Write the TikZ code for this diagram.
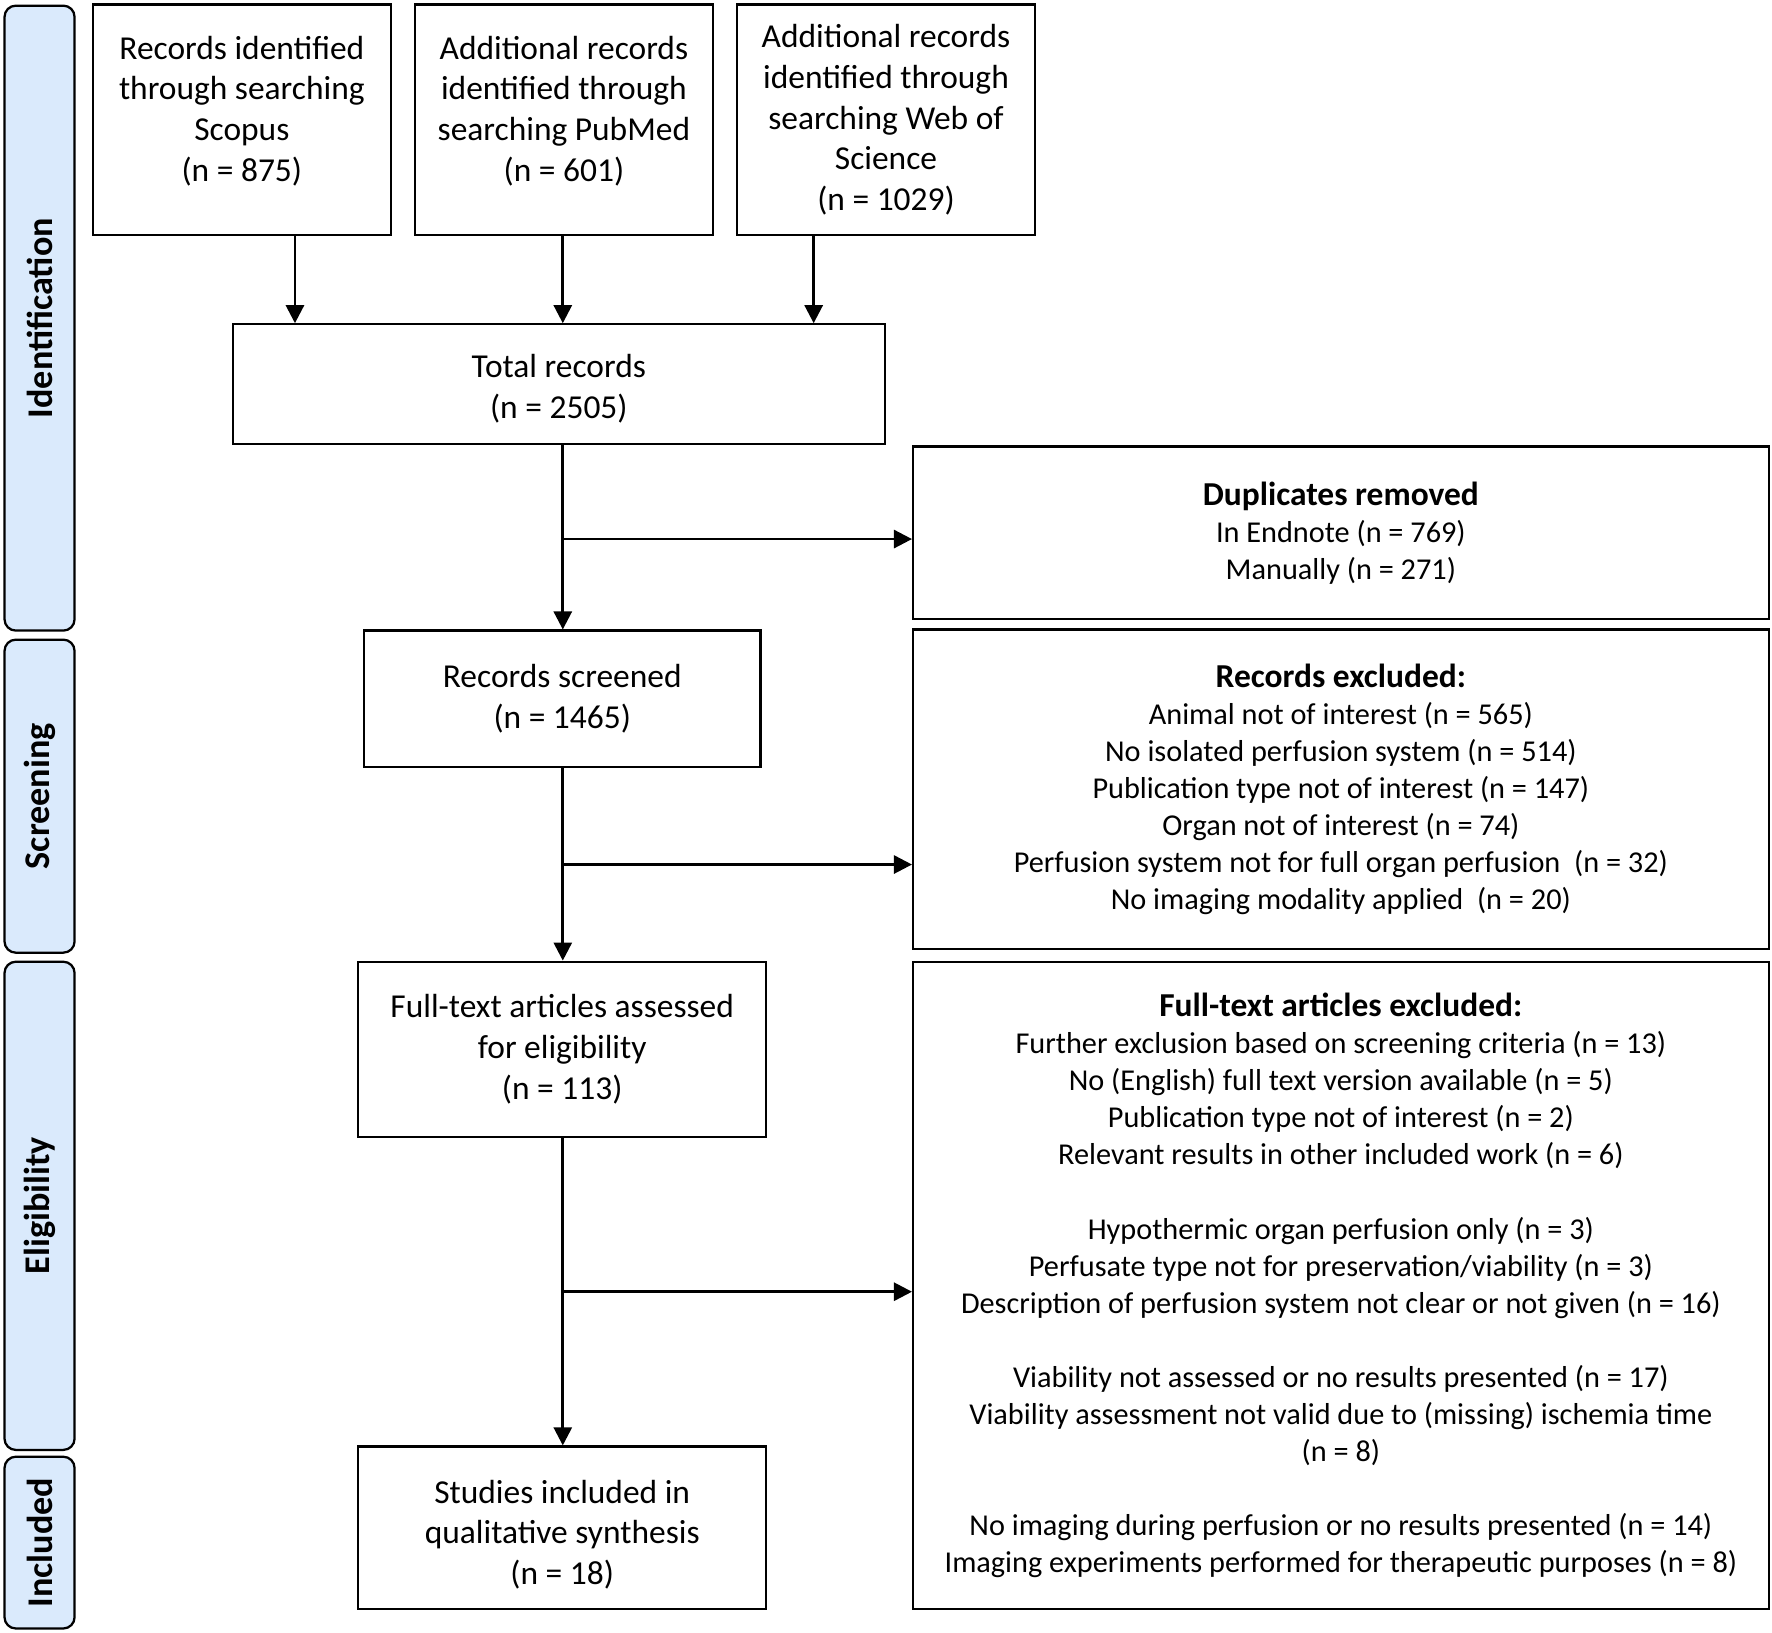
\documentclass[tikz,border=0pt]{standalone}
\usepackage{fontspec}
\setmainfont{Carlito}
\usetikzlibrary{arrows.meta}
\definecolor{barblue}{RGB}{218,234,252}
\tikzset{
  box/.style={draw=black, line width=1pt, fill=white, align=center, inner sep=0pt,
    font=\fontsize{14.8pt}{18pt}\selectfont},
  rbox/.style={draw=black, line width=1pt, fill=white, align=center, inner sep=0pt,
    font=\fontsize{13.4pt}{16.4pt}\selectfont, minimum width=378.5pt},
  head/.style={font=\fontsize{14.8pt}{16.4pt}\selectfont\bfseries},
  bar/.style={draw=black, line width=1pt, fill=barblue, rounded corners=5pt,
    minimum width=31pt, inner sep=0pt},
  barlabel/.style={rotate=90, font=\fontsize{16pt}{18pt}\selectfont\bfseries},
  arr/.style={line width=1.2pt, -{Triangle[width=8pt,length=8pt]}}
}
\newcommand{\hd}[1]{{\fontsize{14.8pt}{16.4pt}\selectfont\bfseries #1}}
\begin{document}
\begin{tikzpicture}[x=0.5pt,y=-0.5pt]
\useasboundingbox (0,0) rectangle (1568,1445);
% side bars
\node[bar, minimum height=276.5pt] (ident) at (35,281.5) {};
\node[barlabel] (identl) at (ident.center) {Identification};
\node[bar, minimum height=138.5pt] (screen) at (35,704.5) {};
\node[barlabel] (screenl) at (screen.center) {Screening};
\node[bar, minimum height=216pt] (elig) at (35,1067) {};
\node[barlabel] (eligl) at (elig.center) {Eligibility};
\node[bar, minimum height=76pt] (incl) at (35,1365) {};
\node[barlabel] (incll) at (incl.center) {Included};
% top boxes
\node[box, minimum width=132pt, minimum height=102pt] (scopus) at (214,106) {};
\node[box, draw=none, fill=none] (scopust) at (214,98) {Records identified\\through searching\\Scopus\\(n = 875)};
\node[box, minimum width=132pt, minimum height=102pt] (pubmed) at (499,106) {};
\node[box, draw=none, fill=none] (pubmedt) at (499,98) {Additional records\\identified through\\searching PubMed\\(n = 601)};
\node[box, minimum width=132pt, minimum height=102pt] (wos) at (784,106) {};
\node[box, draw=none, fill=none] (wost) at (784,106) {Additional records\\identified through\\searching Web of\\Science\\(n = 1029)};
% main column
\node[box, minimum width=288.5pt, minimum height=53pt] (total) at (494.5,340) {};
\node[box, draw=none, fill=none] (totalt) at (494.5,344) {Total records\\(n = 2505)};
\node[box, minimum width=175.5pt, minimum height=60.5pt] (screened) at (497.5,618.5) {Records screened\\(n = 1465)};
\node[box, minimum width=180.5pt, minimum height=77.5pt] (fulltext) at (497.5,928.5) {Full-text articles assessed\\for eligibility\\(n = 113)};
\node[box, minimum width=180.5pt, minimum height=72pt] (studies) at (497.5,1352) {};
\node[box, draw=none, fill=none] (studiest) at (497.5,1358) {Studies included in\\qualitative synthesis\\(n = 18)};
% right boxes
\node[rbox, minimum height=76.5pt] (dup) at (1186.5,471.5) {\hd{Duplicates removed}\\In Endnote (n = 769)\\Manually (n = 271)};
\node[rbox, minimum height=141.5pt] (excl) at (1186.5,698.5) {\hd{Records excluded:}\\Animal not of interest (n = 565)\\No isolated perfusion system (n = 514)\\Publication type not of interest (n = 147)\\Organ not of interest (n = 74)\\Perfusion system not for full organ perfusion~~(n = 32)\\No imaging modality applied~~(n = 20)};
\node[rbox, minimum height=286.5pt] (ftexcl) at (1186.5,1137.5) {\hd{Full-text articles excluded:}\\Further exclusion based on screening criteria (n = 13)\\No (English) full text version available (n = 5)\\Publication type not of interest (n = 2)\\Relevant results in other included work (n = 6)\\[16.4pt]Hypothermic organ perfusion only (n = 3)\\Perfusate type not for preservation/viability (n = 3)\\Description of perfusion system not clear or not given (n = 16)\\[16.4pt]Viability not assessed or no results presented (n = 17)\\Viability assessment not valid due to (missing) ischemia time\\(n = 8)\\[16.4pt]No imaging during perfusion or no results presented (n = 14)\\Imaging experiments performed for therapeutic purposes (n = 8)};
% connector coordinates
\coordinate (a1) at (261,0);
\coordinate (a2) at (498,0);
\coordinate (a3) at (720,0);
\coordinate (b1) at (498,477);
\coordinate (b2) at (498,765);
\coordinate (b3) at (498,1143);
% arrows
\draw[arr] (a1 |- scopus.south) -- (a1 |- total.north);
\draw[arr] (a2 |- pubmed.south) -- (a2 |- total.north);
\draw[arr] (a3 |- wos.south) -- (a3 |- total.north);
\draw[arr] (a2 |- total.south) -- (a2 |- screened.north);
\draw[arr] (b1) -- (b1 -| dup.west);
\draw[arr] (a2 |- screened.south) -- (a2 |- fulltext.north);
\draw[arr] (b2) -- (b2 -| excl.west);
\draw[arr] (a2 |- fulltext.south) -- (a2 |- studies.north);
\draw[arr] (b3) -- (b3 -| ftexcl.west);
\end{tikzpicture}
\end{document}
